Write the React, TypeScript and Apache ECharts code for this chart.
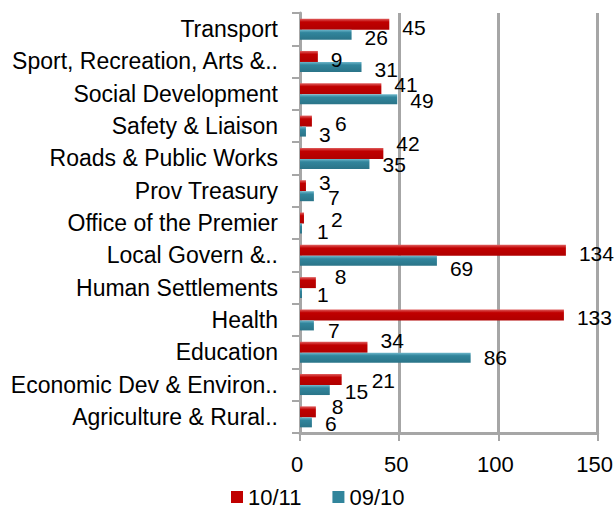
import React, { useEffect, useRef } from "react";
import * as echarts from "echarts";

const categories = [
  "Agriculture & Rural..",
  "Economic Dev & Environ..",
  "Education",
  "Health",
  "Human Settlements",
  "Local Govern &..",
  "Office of the Premier",
  "Prov Treasury",
  "Roads & Public Works",
  "Safety & Liaison",
  "Social Development",
  "Sport, Recreation, Arts &..",
  "Transport",
];
const values1011 = [8, 21, 34, 133, 8, 134, 2, 3, 42, 6, 41, 9, 45];
const values0910 = [6, 15, 86, 7, 1, 69, 1, 7, 35, 3, 49, 31, 26];
const xTicks = { min: 0, max: 150, interval: 50 };

// label nudges [dx, dy] (styling only, placement of value labels as in reference)
const redLabelNudge: [number, number][] = [
  [3, -5], [17, 1], [0, -7], [0, 2.5], [6, -6.5], [0, 3.5], [14, 1],
  [0, -3.5], [0, -9.5], [10, 2.5], [0, -4], [0, 3], [0, 3],
];
const tealLabelNudge: [number, number][] = [
  [0, 1.5], [2, 1], [0, 0], [1, 5.5], [2, 1], [0, 8], [2, 3],
  [1, 1], [0, 1], [0, 2.5], [0, 1.5], [0, 3], [0, 3],
];

const FONT = "'Liberation Sans', Arial, sans-serif";
const RED = "#C00000";
const TEAL = "#31859C";

export default function App() {
  const ref = useRef<HTMLDivElement>(null);
  useEffect(() => {
    if (!ref.current) return;
    const chart = echarts.init(ref.current, null, { renderer: "svg" });
    const grad = (top: string, mid: string, bot: string) =>
      new echarts.graphic.LinearGradient(0, 0, 0, 1, [
        { offset: 0, color: top },
        { offset: 0.3, color: mid },
        { offset: 1, color: bot },
      ]);
    const withNudge = (vals: number[], nudge: [number, number][]) =>
      vals.map((v, i) => ({ value: v, label: { offset: nudge[i] } }));
    const labelBase = {
      show: true,
      position: "right",
      distance: 13,
      fontSize: 21,
      color: "#000",
      fontFamily: FONT,
    };
    chart.setOption({
      animation: false,
      textStyle: { fontFamily: FONT },
      grid: { left: 300, right: 16, top: 13, bottom: 77, containLabel: false },
      legend: {
        left: 226,
        top: 481,
        itemWidth: 12,
        itemHeight: 12,
        itemGap: 31,
        icon: "rect",
        textStyle: { fontSize: 22, lineHeight: 20, color: "#000", fontFamily: FONT },
        data: [
          { name: "10/11", itemStyle: { color: RED } },
          { name: "09/10", itemStyle: { color: TEAL } },
        ],
      },
      xAxis: {
        type: "value",
        min: xTicks.min,
        max: xTicks.max,
        interval: xTicks.interval,
        axisLine: { show: true, lineStyle: { color: "#A6A6A6", width: 3 } },
        axisTick: { show: true, length: 8, lineStyle: { color: "#A6A6A6", width: 2 } },
        axisLabel: {
          fontSize: 22,
          color: "#000",
          margin: 20,
          fontFamily: FONT,
          padding: [0, 6, 0, 0],
        },
        splitLine: { show: true, lineStyle: { color: "#A6A6A6", width: 3 } },
      },
      yAxis: {
        type: "category",
        data: categories,
        axisLine: { show: true, lineStyle: { color: "#A6A6A6", width: 3 } },
        axisTick: { show: true, length: 8, lineStyle: { color: "#A6A6A6", width: 2 } },
        axisLabel: {
          fontSize: 23,
          color: "#000",
          margin: 22,
          fontFamily: FONT,
        },
      },
      series: [
        {
          name: "10/11",
          type: "bar",
          data: withNudge(values1011, redLabelNudge),
          barWidth: 11,
          barGap: "0%",
          itemStyle: { color: grad("#E06060", RED, "#B00000") },
          label: labelBase,
        },
        {
          name: "09/10",
          type: "bar",
          data: withNudge(values0910, tealLabelNudge),
          barWidth: 10,
          barGap: "0%",
          itemStyle: { color: grad("#6FB8CC", TEAL, "#2A7488") },
          label: labelBase,
        },
      ],
    });
    return () => chart.dispose();
  }, []);
  return (
    <div
      ref={ref}
      style={{ position: "absolute", left: 0, top: 0, width: 616, height: 510 }}
    />
  );
}
